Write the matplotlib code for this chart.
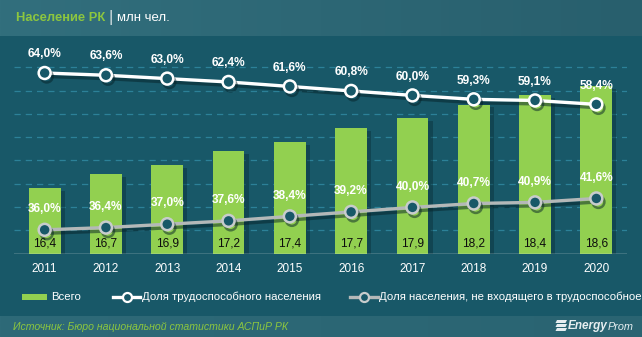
import matplotlib
matplotlib.use("Agg")
import matplotlib.pyplot as plt
import matplotlib.patheffects as pe
from matplotlib.patches import Rectangle, Polygon
from matplotlib.lines import Line2D
from matplotlib.colors import LinearSegmentedColormap
import numpy as np

# Population of Kazakhstan, million people, and shares of working-age population
years = ['2011', '2012', '2013', '2014', '2015', '2016', '2017', '2018', '2019', '2020']
total = [16.4, 16.7, 16.9, 17.2, 17.4, 17.7, 17.9, 18.2, 18.4, 18.6]
share_working = [64.0, 63.6, 63.0, 62.4, 61.6, 60.8, 60.0, 59.3, 59.1, 58.4]
share_other = [36.0, 36.4, 37.0, 37.6, 38.4, 39.2, 40.0, 40.7, 40.9, 41.6]

bg = '#185868'
green = '#92d050'
grid_col = '#2c8198'
grey_line = '#b4b8b8'
fs = 8.2

plt.rcParams['font.family'] = ['Liberation Sans', 'DejaVu Sans']

W, H = 642, 337
fig = plt.figure(figsize=(W / 100, H / 100), dpi=100)
fig.patch.set_facecolor(bg)

# header band with a soft left-to-right gradient
grad = np.linspace(0, 1, 256).reshape(1, -1)
hax = fig.add_axes([0, 1 - 36 / H, 1, 36 / H])
hax.imshow(grad, aspect='auto', cmap=LinearSegmentedColormap.from_list('hdr', ['#326f7d', '#285f6d']),
           extent=[0, 1, 0, 1])
hax.set_axis_off()

# footer band
fax = fig.add_axes([0, 0, 1, 21 / H])
fax.imshow(grad, aspect='auto', cmap=LinearSegmentedColormap.from_list('ftr', ['#2e6a78', '#2a6472']),
           extent=[0, 1, 0, 1])
fax.set_axis_off()

# main plot area
left, right = 14 / W, 627 / W
bottom, top = (H - 253.5) / H, (H - 44) / H
ax = fig.add_axes([left, bottom, right - left, top - bottom])
ax.set_facecolor('none')
x = np.arange(len(years))

bars = ax.bar(x, total, width=0.52, bottom=0, color=green, zorder=3)
for b in bars:
    b.set_path_effects([pe.SimplePatchShadow(offset=(3, -2), shadow_rgbFace='#0a2f38', alpha=0.45),
                        pe.Normal()])
ax.set_ylim(15, 19.5)
ax.set_xlim(-0.5, 9.5)
for g in np.arange(15.5, 19.01, 0.5):
    ax.axhline(g, color=grid_col, lw=0.9, ls=(0, (5, 4)), zorder=1)
ax.axhline(15, color='#d8e0e2', lw=1.0, zorder=4)

for s in ax.spines.values():
    s.set_visible(False)
ax.set_yticks([])
ax.set_xticks(x)
ax.set_xticklabels(years, color='white', fontsize=8.5)
ax.tick_params(axis='x', length=0, pad=6.5)

for xi, v in zip(x, total):
    ax.annotate(f'{v:.1f}'.replace('.', ','), (xi, 15), xytext=(0, 7.5), textcoords='offset points',
                ha='center', va='center', fontsize=8.6, color='#0d0d0d', zorder=6)

# percentage lines on a secondary scale
ax2 = ax.twinx()
ax2.set_ylim(31.77, 69.18)
ax2.set_axis_off()
shadow = [pe.SimpleLineShadow(offset=(1.5, -2.5), shadow_color='#062228', alpha=0.5), pe.Normal()]
ax2.plot(x, share_working, color='white', lw=2.4, marker='o', ms=8.6, mfc=bg, mec='white', mew=1.8,
         zorder=5, path_effects=shadow)
ax2.plot(x, share_other, color=grey_line, lw=2.4, marker='o', ms=8.6, mfc=bg, mec='#c8cccc', mew=1.8,
         zorder=5, path_effects=shadow)

for xi, v in zip(x, share_working):
    ax2.annotate(f'{v:.1f}%'.replace('.', ','), (xi, v), xytext=(0, 13.5), textcoords='offset points',
                 ha='center', va='center', fontsize=8.6, fontweight='bold', color='white', zorder=7)
for xi, v in zip(x, share_other):
    ax2.annotate(f'{v:.1f}%'.replace('.', ','), (xi, v), xytext=(0, 15), textcoords='offset points',
                 ha='center', va='center', fontsize=8.6, fontweight='bold', color='white', zorder=7)


# legend, drawn in figure pixels
def fx(px):
    return px / W


def fy(py):
    return 1 - py / H


ly = 297
fig.patches.append(Rectangle((fx(22), fy(ly + 3)), fx(25), 6 / H, transform=fig.transFigure,
                             facecolor=green, edgecolor='none'))
fig.text(fx(51), fy(ly), 'Всего', color='white', fontsize=fs, va='center', ha='left')
fig.lines.append(Line2D([fx(113), fx(140)], [fy(ly), fy(ly)], transform=fig.transFigure,
                        color='white', lw=2.4))
fig.lines.append(Line2D([fx(126.5)], [fy(ly)], transform=fig.transFigure, marker='o', ms=6.5,
                        mfc=bg, mec='white', mew=1.6))
fig.text(fx(142), fy(ly), 'Доля трудоспособного населения', color='white', fontsize=fs,
         va='center', ha='left')
fig.lines.append(Line2D([fx(350), fx(378)], [fy(ly), fy(ly)], transform=fig.transFigure,
                        color=grey_line, lw=2.4))
fig.lines.append(Line2D([fx(363.5)], [fy(ly)], transform=fig.transFigure, marker='o', ms=6.5,
                        mfc=bg, mec='#c8cccc', mew=1.6))
fig.text(fx(379), fy(ly), 'Доля населения, не входящего в трудоспособное', color='white',
         fontsize=fs, va='center', ha='left')

# header title
fig.text(fx(16), fy(18), 'Население РК', color='#8cc63f', fontsize=9.3, fontweight='bold',
         va='center', ha='left')
fig.text(fx(108), fy(17.5), '|', color='#d0dcdf', fontsize=12, va='center', ha='left')
fig.text(fx(117), fy(18), 'млн чел.', color='white', fontsize=9.5, va='center', ha='left')

# footer source and logo
fig.text(fx(13), fy(326.5), 'Источник: Бюро национальной статистики АСПиР РК', color='#8cc63f',
         fontsize=7.6, style='italic', va='center', ha='left')
for k in range(3):
    yy = 320 + k * 4
    fig.patches.append(Polygon([(fx(555.5), fy(yy + 3)), (fx(565.5), fy(yy + 3)), (fx(567), fy(yy)),
                                (fx(557), fy(yy))], closed=True, transform=fig.transFigure,
                               facecolor='#e6eef0', edgecolor='none'))
fig.text(fx(568), fy(326.5), 'Energy', color='#e6eef0', fontsize=8.5, style='italic',
         fontweight='bold', va='center', ha='left')
fig.text(fx(607.5), fy(326.5), 'Prom', color='#e6eef0', fontsize=7.8, style='italic',
         va='center', ha='left')

fig.savefig('out.png', dpi=100, facecolor=fig.get_facecolor())
